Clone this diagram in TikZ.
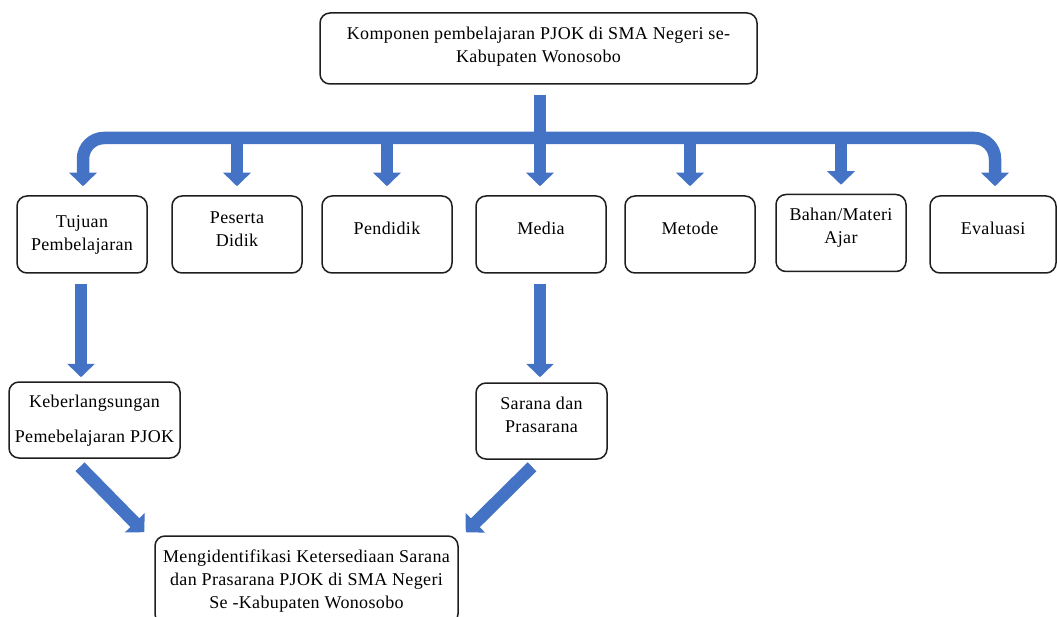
\documentclass[tikz,border=0pt]{standalone}
\usepackage{fontspec}
\setmainfont[LetterSpace=2]{Liberation Serif}
\usetikzlibrary{arrows.meta}
\definecolor{arrowblue}{HTML}{4472C4}
\definecolor{boxline}{HTML}{1E1E1E}
\begin{document}
\begin{tikzpicture}[x=1pt,y=-1pt,
  box/.style={draw=boxline, line width=1.5pt, rounded corners=10pt, fill=white, inner sep=0pt},
  lbl/.style={font=\fontsize{18}{23}\selectfont, align=center, inner sep=0pt},
  headtip/.tip={Triangle[width=27pt,length=13.5pt]},
  blk/.style={draw=arrowblue, line width=12.5pt, -headtip},
  stemline/.style={draw=arrowblue, line width=12.5pt},
  bus/.style={draw=arrowblue, line width=12.5pt, headtip-headtip, rounded corners=21pt}]
\useasboundingbox (0,0) rectangle (1057,617);
% boxes
\node[box, minimum width=437pt, minimum height=71pt] (top) at (538.5,48.5) {};
\node[box, minimum width=130pt, minimum height=77pt] (tujuan) at (82,234.5) {};
\node[box, minimum width=130pt, minimum height=77pt] (peserta) at (237,234.5) {};
\node[box, minimum width=130pt, minimum height=77pt] (pendidik) at (387,234.5) {};
\node[box, minimum width=130pt, minimum height=77pt] (media) at (541,234.5) {};
\node[box, minimum width=130pt, minimum height=77pt] (metode) at (690,234.5) {};
\node[box, minimum width=130pt, minimum height=77pt] (bahan) at (841,233) {};
\node[box, minimum width=126pt, minimum height=77pt] (evaluasi) at (993,234.5) {};
\node[box, minimum width=171pt, minimum height=76pt] (keber) at (94.5,420) {};
\node[box, minimum width=131pt, minimum height=76pt] (sarana) at (541.5,421) {};
\node[box, minimum width=303pt, minimum height=88pt] (hasil) at (306.5,580) {};
% texts
\node[lbl] (ttop) at (538.5,46.5) {Komponen pembelajaran PJOK di SMA Negeri se-\\Kabupaten Wonosobo};
\node[lbl] (ttujuan) at (82,234.5) {Tujuan\\Pembelajaran};
\node[lbl] (tpeserta) at (237,229) {Peserta\\Didik};
\node[lbl] (tpendidik) at (387,228) {Pendidik};
\node[lbl] (tmedia) at (541,228) {Media};
\node[lbl] (tmetode) at (690,228) {Metode};
\node[lbl] (tbahan) at (841,228) {Bahan/Materi\\Ajar};
\node[lbl] (tevaluasi) at (993,228) {Evaluasi};
\node[lbl] (tkeber) at (94.5,420.5) {Keberlangsungan\\[12pt]Pemebelajaran PJOK};
\node[lbl] (tsarana) at (541.5,415) {Sarana dan\\Prasarana};
\node[lbl] (thasil) at (306.5,581) {Mengidentifikasi Ketersediaan Sarana\\dan Prasarana PJOK di SMA Negeri\\Se -Kabupaten Wonosobo};
% bus
\coordinate (busL) at (83,138);
\coordinate (busM) at (540,138);
\coordinate (busR) at (995,138);
\draw[stemline] ([yshift=-10pt]top.south -| busM) -- (busM);
\draw[bus] ([yshift=9pt]tujuan.north -| busL) -- (busL) -- (busR) -- ([yshift=9pt]evaluasi.north -| busR);
\draw[blk] (peserta.north |- busL) -- ([yshift=9pt]peserta.north);
\draw[blk] (pendidik.north |- busL) -- ([yshift=9pt]pendidik.north);
\draw[blk] (busM) -- ([yshift=9pt]media.north -| busM);
\draw[blk] (metode.north |- busL) -- ([yshift=9pt]metode.north);
\draw[blk] (bahan.north |- busL) -- ([yshift=9pt]bahan.north);
% lower arrows
\draw[blk] ([xshift=-1pt,yshift=-10pt]tujuan.south) -- ([xshift=-1pt,yshift=4pt]tujuan.south |- keber.north);
\draw[blk] ([xshift=-1pt,yshift=-10pt]media.south) -- ([xshift=-1pt,yshift=5pt]media.south |- sarana.north);
\draw[blk] ([shift={(-14.5pt,-8pt)}]keber.south) -- ([shift={(-10pt,3pt)}]hasil.north west);
\draw[blk] ([shift={(-9.5pt,-7pt)}]sarana.south) -- ([shift={(7pt,3pt)}]hasil.north east);
\end{tikzpicture}
\end{document}
